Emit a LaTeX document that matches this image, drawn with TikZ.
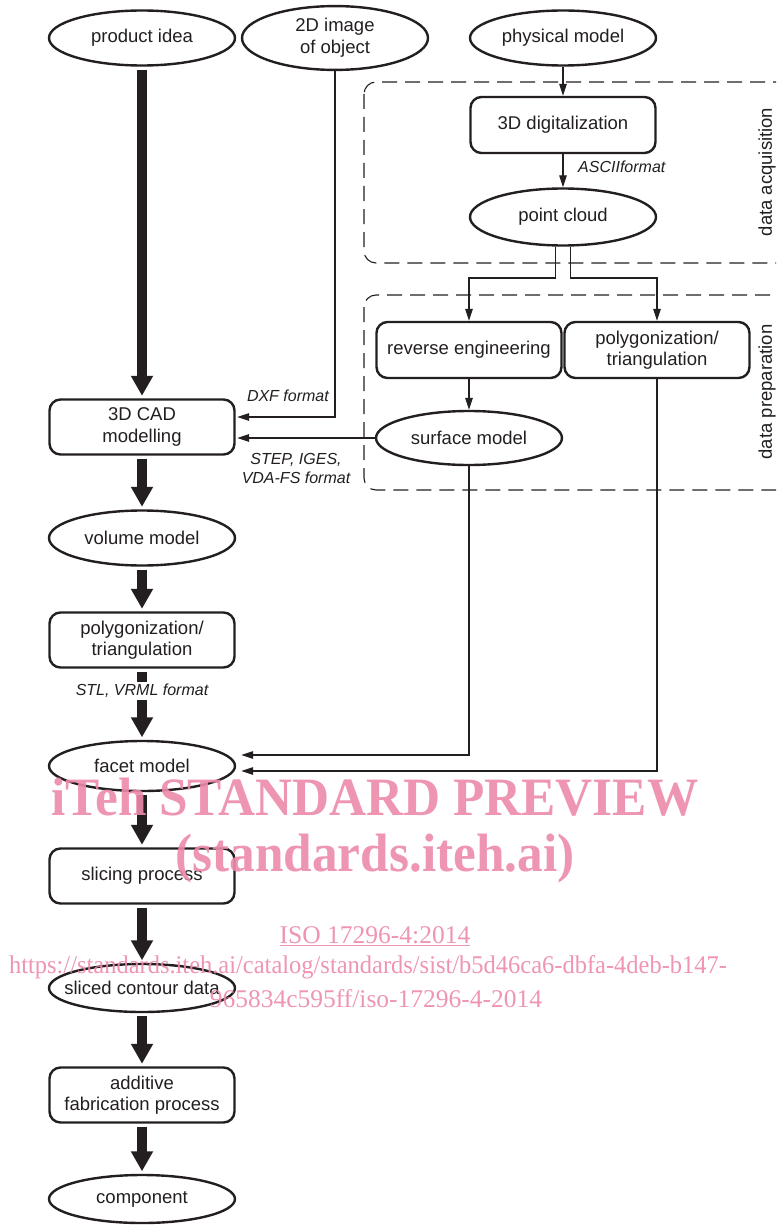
\documentclass[tikz,border=0pt]{standalone}
\usepackage{fontspec}
\setmainfont{Liberation Sans}
\newfontfamily\wmfont{Liberation Serif}
\usetikzlibrary{arrows.meta,shapes.geometric}
\definecolor{ink}{HTML}{231F20}
\definecolor{wm}{RGB}{237,138,170}
\tikzset{
  base/.style={draw=ink, line width=2.4pt, text=ink, font=\fontsize{18.5}{21.5}\selectfont, inner sep=0pt},
  ell/.style={base, ellipse, minimum width=186pt, minimum height=55pt},
  rbox/.style={base, rectangle, rounded corners=11pt, minimum width=185pt, minimum height=55pt, align=center},
  conn/.style={draw=ink, line width=1.1pt, -{Triangle[length=12pt,width=7.5pt]}},
  bigarrow/.style={draw=ink, line width=10pt, -{Triangle[length=20pt,width=21pt]}, shorten <=3pt, shorten >=2.5pt},
  lab/.style={font=\fontsize{16}{19}\selectfont\itshape, text=ink, inner sep=1pt, align=center},
  side/.style={font=\fontsize{18.5}{22}\selectfont, text=ink, rotate=90, inner sep=0pt},
  dbox/.style={draw=ink, line width=1.1pt, dash pattern=on 15pt off 8pt, rounded corners=12pt},
  wmk/.style={text=wm, inner sep=0pt, anchor=base, opacity=0.9},
}
\newcommand{\zw}[1]{\makebox[0pt]{#1}}
\begin{document}
\begin{tikzpicture}[x=1pt,y=-1pt]
\useasboundingbox (0,0) rectangle (776,1225);
\clip (0,0) rectangle (776,1225);
\fill[white] (0,0) rectangle (776,1225);

% dashed group frames
\draw[dbox] (364,82) rectangle (800,263);
\draw[dbox] (364,295) rectangle (800,490);
\node[side] (acq) at (767,172) {data acquisition};
\node[side] (prep) at (767,392) {data preparation};

% nodes
\node[ell] (pidea) at (142,38) {\zw{product idea}};
\node[ell] (img2d) at (335,38) {\zw{\raisebox{-2pt}{\def\arraystretch{1.05}\begin{tabular}{@{}c@{}}2D image\\of object\end{tabular}}}};
\node[ell] (phys) at (563,38) {\zw{physical model}};
\node[rbox, minimum height=56pt] (dig) at (563,125) {3D digitalization};
\node[ell, minimum height=57pt] (pcloud) at (563,217) {\zw{point cloud}};
\node[rbox, minimum height=56pt] (reveng) at (469,350) {reverse engineering};
\node[rbox, minimum height=56pt] (polyR) at (657,350) {polygonization/\\triangulation};
\node[ell, minimum height=54pt] (surf) at (469,438) {\zw{surface model}};
\node[rbox] (cad) at (142,427) {3D CAD\\modelling};
\node[ell] (vol) at (142,538) {\zw{volume model}};
\node[rbox] (polyL) at (142,640) {polygonization/\\triangulation};
\node[ell, minimum height=50pt] (facet) at (142,766) {\zw{facet model}};
\node[rbox] (slice) at (142,876) {slicing process};
\node[ell, minimum height=48pt] (sliced) at (142,988) {\zw{sliced contour data}};
\node[rbox] (addit) at (142,1095) {additive\\fabrication process};
\node[ell, minimum height=48pt] (comp) at (142,1199) {\zw{component}};

% thin connectors
\draw[conn] (phys) -- (dig);
\draw[conn] (dig) -- (pcloud);
\node[lab, anchor=west] (ascii) at (577,167) {ASCIIformat};
\draw[conn] ([xshift=-7.5pt]pcloud.south) -- ([xshift=-7.5pt]pcloud.south |- 0,278) -| (reveng.north);
\draw[conn] ([xshift=7.5pt]pcloud.south) -- ([xshift=7.5pt]pcloud.south |- 0,278) -| (polyR.north);
\draw[conn] (reveng) -- (surf);
\draw[conn, shorten >=1.5pt] (img2d.south) |- ([yshift=10pt]cad.east);
\node[lab, anchor=east] (dxf) at (330,396) {DXF format};
\draw[conn, shorten >=1.5pt] (surf.west) -- (cad.east |- surf.west);
\node[lab] (step) at (296,468) {STEP, IGES,\\VDA-FS format};
\draw[conn] (surf.south) |- ([shift={(5pt,11pt)}]facet.east);
\draw[conn] (polyR.south) |- ([shift={(5pt,-5pt)}]facet.east);

% thick process arrows
\draw[bigarrow] (pidea) -- (cad);
\draw[bigarrow] (cad) -- (vol);
\draw[bigarrow] (vol) -- (polyL);
\draw[bigarrow] (polyL) -- (facet);
\node[lab, fill=white, inner sep=2pt] (stl) at (142,691) {STL, VRML format};
\draw[bigarrow] (facet) -- (slice);
\draw[bigarrow] (slice) -- (sliced);
\draw[bigarrow] (sliced) -- (addit);
\draw[bigarrow] (addit) -- (comp);

% watermark
\node[wmk, font=\wmfont\bfseries\fontsize{54}{60}\selectfont] (wm1) at (375,815) {\scalebox{0.95}[1]{iTeh STANDARD PREVIEW}};
\node[wmk, font=\wmfont\bfseries\fontsize{54}{60}\selectfont] (wm2) at (375,871) {\scalebox{0.95}[1]{(standards.iteh.ai)}};
\node[wmk, font=\wmfont\fontsize{25.5}{28}\selectfont] (wm3) at (375,943) {\underline{ISO 17296-4:2014}};
\node[wmk, font=\wmfont\fontsize{25.5}{28}\selectfont] (wm4) at (368,973) {\scalebox{0.96}[1]{https://standards.iteh.ai/catalog/standards/sist/b5d46ca6-dbfa-4deb-b147-}};
\node[wmk, font=\wmfont\fontsize{25.5}{28}\selectfont] (wm5) at (376,1007) {965834c595ff/iso-17296-4-2014};
\end{tikzpicture}
\end{document}
